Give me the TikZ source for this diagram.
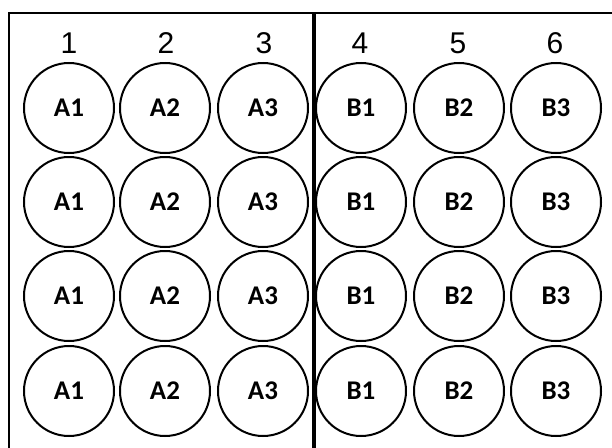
\documentclass[tikz,border=0pt]{standalone}
\usepackage{fontspec}
\newfontfamily\numfont{Liberation Sans}
\newfontfamily\wellfont{Carlito}

\tikzset{
  well/.style={draw, circle, line width=2pt, minimum size=90pt, inner sep=0pt,
    font=\wellfont\bfseries\fontsize{27}{27}\selectfont},
  colnum/.style={inner sep=0pt, font=\numfont\fontsize{30}{30}\selectfont}
}

\begin{document}
\begin{tikzpicture}[x=1pt,y=-1pt]
\useasboundingbox (0,0) rectangle (612,447);
\clip (0,0) rectangle (612,447);
\draw[line width=2pt] (9,13) rectangle (630,470);
\draw[line width=3.5pt] (314,13) -- (314,470);
% column numbers
\foreach \c/\x in {1/69,2/166,3/264,4/360,5/458,6/555}
  \node[colnum] (n\c) at (\x,43) {\c};
% wells
\foreach \r/\y in {1/108,2/202,3/296,4/391}
  \foreach \c/\x/\t in {1/69/A1,2/165/A2,3/263/A3,4/361/B1,5/459/B2,6/556/B3}
    \node[well] (w\r\c) at (\x,\y) {\t};
\end{tikzpicture}
\end{document}
